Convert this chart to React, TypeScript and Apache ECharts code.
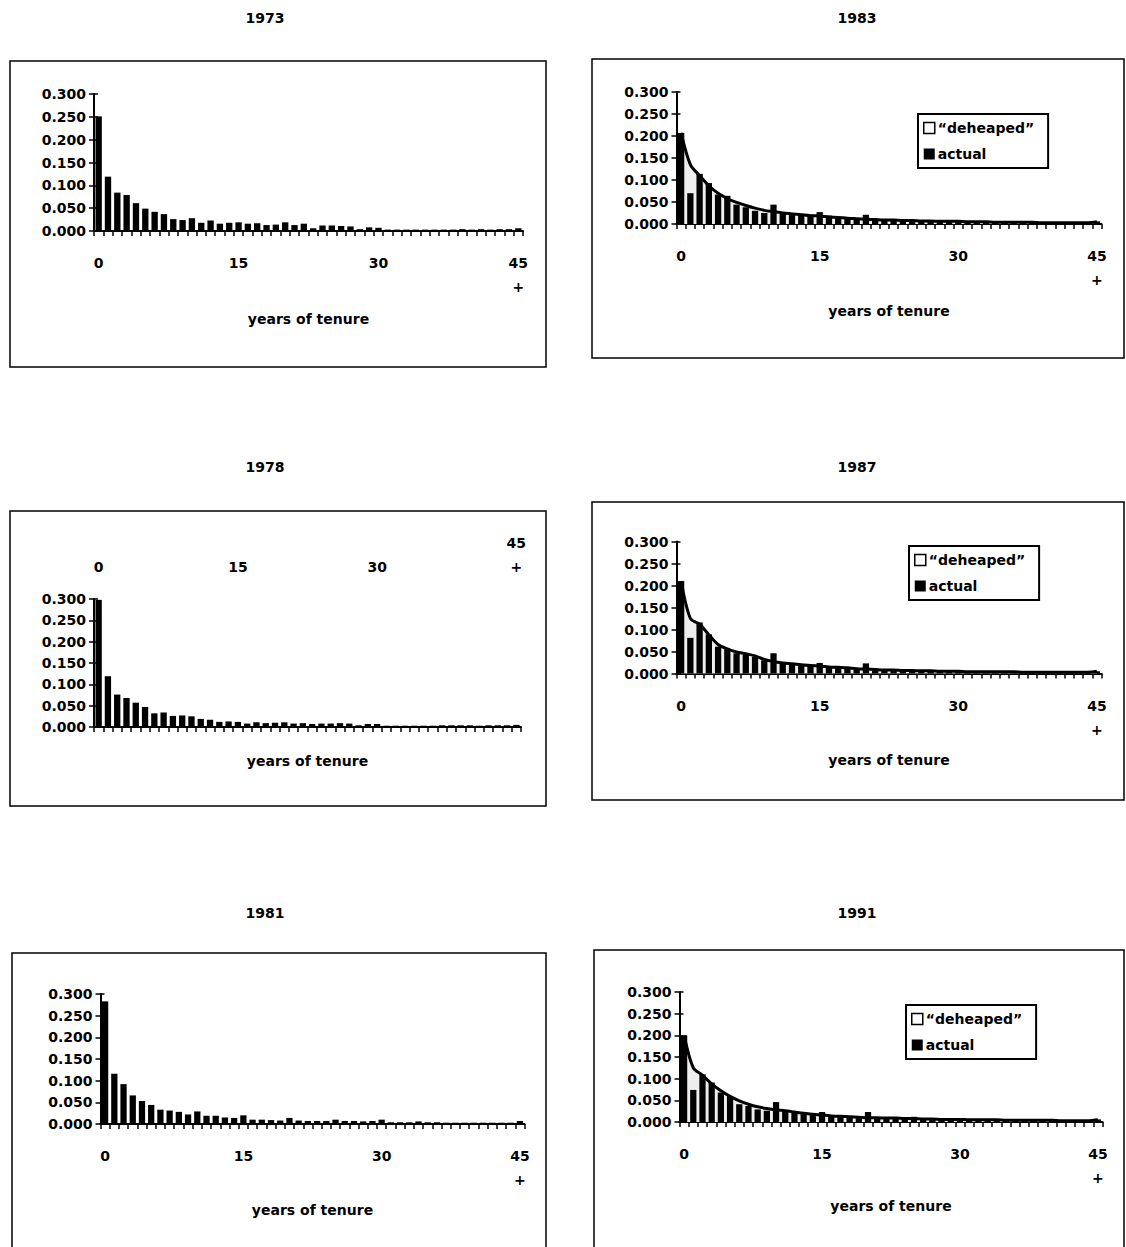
import React, { useEffect, useRef } from "react";
import * as echarts from "echarts";

// ---------- data ----------
const tenure: string[] = Array.from({ length: 46 }, (_, i) => (i === 45 ? "45\n+" : String(i)));
const yTicks = [0, 0.05, 0.1, 0.15, 0.2, 0.25, 0.3];

const actual1973 = [
  0.251, 0.119, 0.084, 0.079, 0.061, 0.049, 0.042, 0.037, 0.026, 0.024,
  0.028, 0.018, 0.023, 0.016, 0.018, 0.019, 0.016, 0.017, 0.013, 0.014,
  0.019, 0.013, 0.016, 0.006, 0.012, 0.012, 0.011, 0.010, 0.004, 0.008,
  0.007, 0.003, 0.003, 0.003, 0.003, 0.003, 0.003, 0.003, 0.003, 0.004,
  0.003, 0.004, 0.003, 0.004, 0.004, 0.006,
];
const actual1978 = [
  0.298, 0.119, 0.076, 0.068, 0.057, 0.047, 0.032, 0.034, 0.026, 0.027,
  0.025, 0.019, 0.017, 0.012, 0.013, 0.012, 0.008, 0.011, 0.009, 0.010,
  0.011, 0.008, 0.009, 0.007, 0.008, 0.008, 0.009, 0.008, 0.004, 0.007,
  0.007, 0.003, 0.003, 0.003, 0.003, 0.003, 0.003, 0.004, 0.004, 0.004,
  0.004, 0.003, 0.004, 0.004, 0.004, 0.005,
];
const actual1981 = [
  0.283, 0.116, 0.092, 0.066, 0.053, 0.044, 0.033, 0.031, 0.028, 0.022,
  0.029, 0.019, 0.019, 0.015, 0.014, 0.020, 0.010, 0.010, 0.009, 0.008,
  0.014, 0.008, 0.007, 0.007, 0.007, 0.010, 0.007, 0.007, 0.006, 0.007,
  0.010, 0.004, 0.004, 0.004, 0.006, 0.004, 0.004, 0.003, 0.003, 0.003,
  0.003, 0.003, 0.003, 0.003, 0.003, 0.007,
];
const actual1983 = [
  0.207, 0.070, 0.114, 0.093, 0.067, 0.064, 0.044, 0.038, 0.030, 0.025,
  0.044, 0.025, 0.023, 0.023, 0.021, 0.027, 0.019, 0.017, 0.014, 0.010,
  0.021, 0.008, 0.008, 0.007, 0.007, 0.010, 0.006, 0.006, 0.005, 0.005,
  0.008, 0.004, 0.004, 0.004, 0.004, 0.005, 0.003, 0.003, 0.003, 0.003,
  0.004, 0.003, 0.003, 0.003, 0.003, 0.006,
];
const deheaped1983 = [
  0.207, 0.135, 0.110, 0.087, 0.070, 0.058, 0.049, 0.042, 0.036, 0.031,
  0.028, 0.025, 0.023, 0.021, 0.019, 0.018, 0.016, 0.015, 0.013, 0.012,
  0.011, 0.010, 0.009, 0.009, 0.008, 0.008, 0.007, 0.007, 0.006, 0.006,
  0.006, 0.005, 0.005, 0.005, 0.004, 0.004, 0.004, 0.004, 0.004, 0.003,
  0.003, 0.003, 0.003, 0.003, 0.003, 0.005,
];
const actual1987 = [
  0.210, 0.081, 0.116, 0.089, 0.061, 0.055, 0.046, 0.042, 0.038, 0.030,
  0.046, 0.023, 0.022, 0.019, 0.017, 0.024, 0.017, 0.015, 0.013, 0.010,
  0.023, 0.007, 0.007, 0.006, 0.006, 0.008, 0.005, 0.005, 0.005, 0.005,
  0.008, 0.003, 0.003, 0.004, 0.003, 0.004, 0.003, 0.003, 0.003, 0.003,
  0.004, 0.003, 0.003, 0.003, 0.003, 0.005,
];
const deheaped1987 = [
  0.210, 0.125, 0.112, 0.088, 0.066, 0.056, 0.049, 0.045, 0.040, 0.032,
  0.027, 0.024, 0.022, 0.020, 0.018, 0.017, 0.015, 0.014, 0.013, 0.011,
  0.010, 0.009, 0.008, 0.008, 0.007, 0.007, 0.006, 0.006, 0.005, 0.005,
  0.005, 0.004, 0.004, 0.004, 0.004, 0.004, 0.004, 0.003, 0.003, 0.003,
  0.003, 0.003, 0.003, 0.003, 0.003, 0.005,
];
const actual1991 = [
  0.200, 0.074, 0.110, 0.091, 0.068, 0.060, 0.041, 0.037, 0.029, 0.026,
  0.046, 0.025, 0.025, 0.018, 0.018, 0.023, 0.015, 0.014, 0.012, 0.009,
  0.023, 0.010, 0.009, 0.009, 0.008, 0.012, 0.005, 0.005, 0.005, 0.005,
  0.007, 0.004, 0.004, 0.004, 0.004, 0.005, 0.004, 0.003, 0.003, 0.003,
  0.005, 0.003, 0.003, 0.003, 0.003, 0.006,
];
const deheaped1991 = [
  0.200, 0.125, 0.108, 0.088, 0.072, 0.059, 0.049, 0.041, 0.035, 0.031,
  0.028, 0.026, 0.023, 0.020, 0.018, 0.016, 0.014, 0.013, 0.012, 0.011,
  0.010, 0.010, 0.009, 0.009, 0.008, 0.008, 0.007, 0.007, 0.006, 0.006,
  0.006, 0.005, 0.005, 0.005, 0.005, 0.004, 0.004, 0.004, 0.004, 0.004,
  0.004, 0.003, 0.003, 0.003, 0.003, 0.005,
];

const DEHEAPED = "\u201cdeheaped\u201d";
const ACTUAL = "actual";
const AXIS_NAME = "years of tenure";

// ---------- layout ----------
const FONT = "DejaVu Sans";

type Panel = {
  title: string;
  titleX: number;
  titleY: number;
  actual: number[];
  deheaped: number[] | null;
  grid: { left: number; top: number; width: number; height: number };
  frame: { x: number; y: number; width: number; height: number };
  labelsTop: boolean;
  nameGap: number;
  legend: { left: number; top: number } | null;
};

const panels: Panel[] = [
  {
    title: "1973", titleX: 265, titleY: 18, actual: actual1973, deheaped: null,
    grid: { left: 94, top: 94, width: 429, height: 137 },
    frame: { x: 10, y: 61, width: 536, height: 306 },
    labelsTop: false, nameGap: 81, legend: null,
  },
  {
    title: "1983", titleX: 857, titleY: 18, actual: actual1983, deheaped: deheaped1983,
    grid: { left: 676.5, top: 92, width: 425, height: 132 },
    frame: { x: 592, y: 59, width: 532, height: 299 },
    labelsTop: false, nameGap: 80, legend: { left: 918, top: 114 },
  },
  {
    title: "1978", titleX: 265, titleY: 467, actual: actual1978, deheaped: null,
    grid: { left: 94, top: 599, width: 427, height: 128 },
    frame: { x: 10, y: 511, width: 536, height: 295 },
    labelsTop: true, nameGap: 27, legend: null,
  },
  {
    title: "1987", titleX: 857, titleY: 467, actual: actual1987, deheaped: deheaped1987,
    grid: { left: 676.5, top: 541.5, width: 425, height: 132 },
    frame: { x: 592, y: 502, width: 532, height: 298 },
    labelsTop: false, nameGap: 79, legend: { left: 909, top: 546 },
  },
  {
    title: "1981", titleX: 265, titleY: 913, actual: actual1981, deheaped: null,
    grid: { left: 100.5, top: 994, width: 424, height: 130 },
    frame: { x: 12, y: 953, width: 534, height: 310 },
    labelsTop: false, nameGap: 79, legend: null,
  },
  {
    title: "1991", titleX: 857, titleY: 913, actual: actual1991, deheaped: deheaped1991,
    grid: { left: 679.5, top: 992, width: 423, height: 130 },
    frame: { x: 594, y: 950, width: 530, height: 310 },
    labelsTop: false, nameGap: 77, legend: { left: 906, top: 1005 },
  },
];

const labelStyle = { fontSize: 14, fontWeight: "bold" as const, fontFamily: FONT, color: "#000" };

function buildOption() {
  const grid: any[] = [];
  const xAxis: any[] = [];
  const yAxis: any[] = [];
  const series: any[] = [];
  const legend: any[] = [];
  const graphic: any[] = [];

  panels.forEach((p, i) => {
    grid.push({ ...p.grid, containLabel: false });
    const xIdx = xAxis.length;
    xAxis.push({
      type: "category",
      gridIndex: i,
      data: tenure,
      boundaryGap: true,
      position: "bottom",
      axisLine: { show: true, lineStyle: { color: "#000", width: 2 } },
      axisTick: { show: true, interval: 0, length: 5, lineStyle: { color: "#000", width: 1.5 } },
      axisLabel: { show: !p.labelsTop, interval: 14, margin: 20, lineHeight: 24, ...labelStyle },
      splitLine: { show: false },
      name: AXIS_NAME,
      nameLocation: "middle",
      nameGap: p.nameGap,
      nameTextStyle: { fontSize: 14, fontWeight: "bold", fontFamily: FONT, color: "#000" },
    });
    if (p.labelsTop) {
      xAxis.push({
        type: "category",
        gridIndex: i,
        data: tenure,
        boundaryGap: true,
        position: "top",
        axisLine: { show: false },
        axisTick: { show: false },
        axisLabel: { show: true, interval: 14, margin: 20, lineHeight: 24, ...labelStyle },
        splitLine: { show: false },
      });
    }
    const yIdx = yAxis.length;
    yAxis.push({
      type: "value",
      gridIndex: i,
      min: yTicks[0],
      max: yTicks[yTicks.length - 1],
      interval: yTicks[1] - yTicks[0],
      axisLine: { show: true, lineStyle: { color: "#000", width: 2 } },
      axisTick: { show: true, length: 5, lineStyle: { color: "#000", width: 1.5 } },
      splitLine: { show: false },
      axisLabel: { margin: 8, formatter: (v: number) => v.toFixed(3), ...labelStyle },
    });
    // companion axis: inner half of the cross-type tick marks
    yAxis.push({
      type: "value",
      gridIndex: i,
      position: "left",
      min: yTicks[0],
      max: yTicks[yTicks.length - 1],
      interval: yTicks[1] - yTicks[0],
      axisLine: { show: false },
      axisTick: { show: true, inside: true, length: 4, lineStyle: { color: "#000", width: 1.5 } },
      splitLine: { show: false },
      axisLabel: { show: false },
    });
    if (p.deheaped) {
      series.push({
        type: "line",
        name: DEHEAPED,
        xAxisIndex: xIdx,
        yAxisIndex: yIdx,
        data: p.deheaped,
        smooth: 0.3,
        symbol: "none",
        lineStyle: { color: "#000", width: 3 },
        itemStyle: { color: "#000" },
        areaStyle: { color: "#eeeeee", opacity: 1 },
        z: 2,
      });
    }
    series.push({
      type: "bar",
      name: ACTUAL,
      xAxisIndex: xIdx,
      yAxisIndex: yIdx,
      data: p.actual,
      barCategoryGap: "32%",
      itemStyle: { color: "#000" },
      z: 3,
    });
    if (p.legend) {
      legend.push({
        show: true,
        left: p.legend.left,
        top: p.legend.top,
        orient: "vertical",
        selectedMode: false,
        data: [
          { name: DEHEAPED, icon: "rect", itemStyle: { color: "#fff", borderColor: "#000", borderWidth: 1.5 } },
          { name: ACTUAL, icon: "rect", itemStyle: { color: "#000", borderColor: "#000", borderWidth: 0 } },
        ],
        itemWidth: 11,
        itemHeight: 11,
        itemGap: 12,
        padding: [7, 14, 7, 5],
        borderColor: "#000",
        borderWidth: 2,
        borderRadius: 0,
        backgroundColor: "#fff",
        textStyle: { fontSize: 14, fontWeight: "bold", fontFamily: FONT, color: "#000", padding: [0, 0, 0, -2] },
      });
    }
    graphic.push({
      type: "rect",
      silent: true,
      z: 0,
      shape: { ...p.frame },
      style: { fill: "none", stroke: "#000", lineWidth: 1.5 },
    });
    graphic.push({
      type: "text",
      silent: true,
      x: p.titleX,
      y: p.titleY,
      style: {
        text: p.title,
        align: "center",
        verticalAlign: "middle",
        fontSize: 14,
        fontWeight: "bold",
        fontFamily: FONT,
        fill: "#000",
      },
    });
  });

  return {
    animation: false,
    backgroundColor: "#fff",
    textStyle: { fontFamily: FONT },
    grid,
    xAxis,
    yAxis,
    series,
    legend,
    graphic,
  };
}

export default function App() {
  const ref = useRef<HTMLDivElement>(null);
  useEffect(() => {
    if (!ref.current) return;
    const chart = echarts.init(ref.current, undefined, { renderer: "svg" });
    chart.setOption(buildOption() as any);
    return () => chart.dispose();
  }, []);
  return (
    <div
      ref={ref}
      style={{ position: "absolute", left: 0, top: 0, width: 1126, height: 1247, background: "#fff" }}
    />
  );
}
